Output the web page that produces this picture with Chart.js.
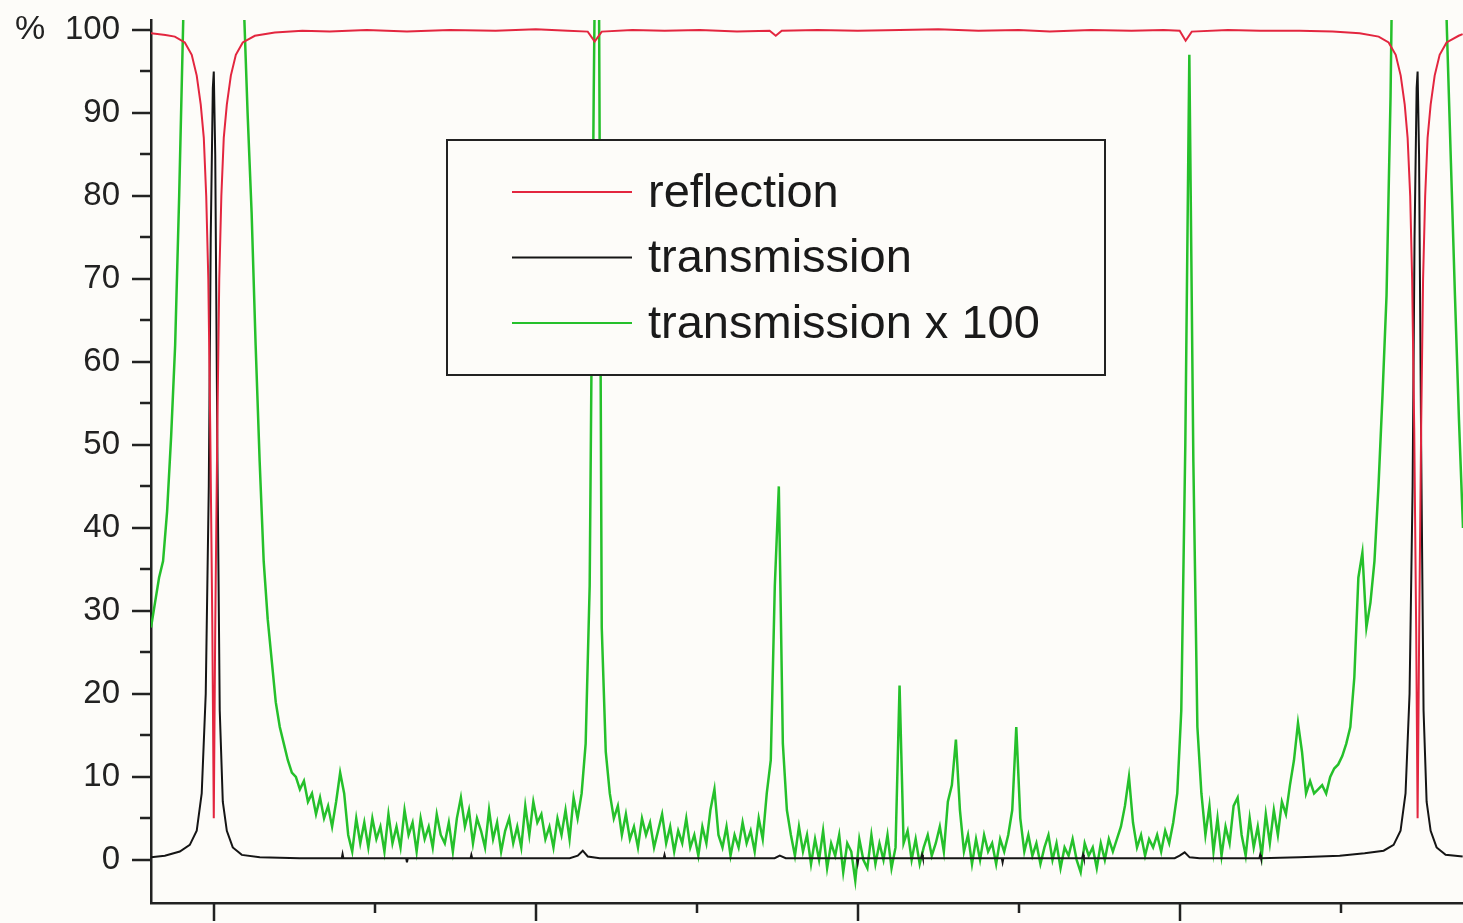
<!DOCTYPE html>
<html lang="en">
<head>
  <meta charset="UTF-8">
  <title>Reflection and transmission</title>
  <script src="https://cdn.jsdelivr.net/npm/chart.js"></script>
  <style>
    body {
      margin: 0;
      background-color: #fdfcf9;
    }
    canvas {
      display: block;
    }
  </style>
</head>
<body>
  <canvas id="myChart" width="1463" height="923"></canvas>

  <script>
    const seriesLabels = ['reflection', 'transmission', 'transmission x 100'];

    // reflection (%)
    const reflectionX = [-0.391, -0.30, -0.242, -0.180, -0.137, -0.106, -0.081, -0.062, -0.047, -0.034, -0.022, -0.009, 0, 0.009, 0.022, 0.034, 0.047, 0.062, 0.081, 0.106,
      0.137, 0.180, 0.255, 0.379, 0.55, 0.72, 0.95, 1.2, 1.466, 1.75, 2.0, 2.2, 2.323, 2.366, 2.410, 2.6, 2.8, 3.019, 3.25, 3.453,
      3.491, 3.528, 3.75, 4.0, 4.261, 4.5, 4.75, 5.0, 5.193, 5.45, 5.7, 5.9, 6.0, 6.037, 6.075, 6.3, 6.5, 6.745, 6.95, 7.118,
      7.236, 7.298, 7.342, 7.373, 7.398, 7.416, 7.432, 7.444, 7.457, 7.469, 7.478, 7.488, 7.500, 7.512, 7.525, 7.540, 7.559, 7.584, 7.615, 7.658,
      7.733, 7.758];
    const reflectionY = [99.6, 99.4, 99.2, 98.5, 97, 94.5, 91, 87, 80, 70, 52, 28, 5, 28, 52, 70, 80, 87, 91, 94.5,
      97, 98.5, 99.3, 99.7, 99.9, 99.8, 100, 99.8, 100, 99.9, 100.1, 99.9, 99.8, 98.6, 99.8, 100, 99.9, 100, 99.8, 99.9,
      99.3, 99.9, 100, 99.9, 100, 100.1, 99.9, 100, 99.8, 100, 99.9, 100, 99.9, 98.7, 99.8, 100, 99.9, 99.9, 99.8, 99.6,
      99.2, 98.5, 97, 94.5, 91, 87, 80, 70, 52, 28, 5, 28, 52, 70, 80, 87, 91, 94.5, 97, 98.5,
      99.3, 99.5];

    // transmission (%)
    const transmissionX = [-0.391, -0.304, -0.211, -0.149, -0.106, -0.075, -0.050, -0.031, -0.019, -0.006, 0, 0.009, 0.022, 0.037, 0.056, 0.081, 0.118, 0.174, 0.286, 0.534,
      0.795, 0.80, 0.805, 1.195, 1.20, 1.205, 1.595, 1.60, 1.605, 2.0,
      2.211, 2.261, 2.292, 2.323, 2.398, 2.795, 2.80, 2.805, 3.2, 3.484,
      3.516, 3.553, 3.995, 4.0, 4.005, 4.395, 4.40, 4.405, 4.895, 4.90,
      4.905, 5.395, 5.40, 5.405, 5.969, 6.0, 6.031, 6.062, 6.124, 6.495,
      6.50, 6.505, 6.745, 6.994, 7.149, 7.267, 7.329, 7.372, 7.403, 7.428,
      7.447, 7.459, 7.472, 7.478, 7.487, 7.500, 7.515, 7.534, 7.559, 7.596,
      7.652, 7.758];
    const transmissionY = [0.3, 0.5, 1.0, 1.8, 3.5, 8, 20, 45, 75, 93, 95, 85, 50, 18, 7, 3.5, 1.5, 0.6, 0.3, 0.2,
      0.2, 0.7, 0.2, 0.2, -0.3, 0.2, 0.2, 0.6, 0.2, 0.2,
      0.2, 0.5, 1.1, 0.4, 0.2, 0.2, 0.6, 0.2, 0.2, 0.2,
      0.5, 0.2, 0.2, -0.4, 0.2, 0.2, 0.6, 0.2, 0.2, -0.3,
      0.2, 0.2, 0.6, 0.2, 0.2, 0.5, 0.9, 0.3, 0.2, 0.2,
      0.6, 0.2, 0.3, 0.5, 0.8, 1.1, 1.8, 3.5, 8, 20,
      45, 75, 93, 95, 85, 50, 18, 7, 3.5, 1.5,
      0.6, 0.4];

    // transmission x 100, one reading every 0.025 starting at -0.39
    const amplifiedStart = -0.39;
    const amplifiedStep = 0.025;
    const amplifiedY = [
      28, 31, 34, 36, 42, 51, 62, 80, 101, 170,
      300, 600, 1500, 4000, 9000, 9500, 4000, 1500, 700, 450,
      380, 250, 150, 104, 90, 78, 62, 48, 36, 29,
      24, 19, 16, 14, 12, 10.5, 10, 8.5, 9.5, 7,
      8, 5.5, 7.5, 5, 6.5, 4, 7, 10.5, 8, 3,
      1, 5, 2, 4.5, 1.5, 5, 2.5, 4, 1, 5.5,
      2, 4, 1.5, 6, 3, 4.5, 1, 5, 2.5, 4,
      1.5, 5.5, 3, 2, 4.5, 1, 5, 7.5, 4, 6,
      2, 5, 3.5, 1.5, 6, 2.5, 4.5, 1, 3.5, 5,
      2, 4, 1.5, 6.5, 3, 7, 4.5, 5.5, 2.5, 4,
      1.5, 5, 3, 6, 2.5, 7.5, 5, 8, 14, 33,
      92, 140, 28, 13, 8, 5, 6.5, 3, 5.5, 2.5,
      4, 1.5, 5, 3, 4.5, 1.5, 3.5, 5.5, 2, 4,
      1, 3.5, 2, 5, 1.5, 3, 0.5, 4, 2, 6,
      8.5, 3, 1.5, 4, 0.5, 3, 1.5, 4.5, 2, 3.5,
      1, 5, 2.5, 8, 12, 33, 45, 14, 6, 3,
      0.5, 4, 1, 3, -0.5, 2.5, 0, 3.5, -1, 2,
      0.5, 3, -1.5, 2, 1, -2.5, 2.5, 0, -1, 3,
      -0.5, 2, 0, 3, -1, 1.5, 21, 2, 3.5, 0,
      2.5, -0.5, 1.5, 3, 0.5, 2, 4, 1, 7, 9,
      14.5, 6, 1, 3, -0.5, 2.5, 0, 3, 1, 2,
      -0.5, 2.5, 1, 3, 6, 16, 5, 1, 3, 0.5,
      2, -0.5, 1.5, 3, 0, 2, -1, 1.5, 0.5, 2.5,
      0, -1.5, 2, 0.5, 1.5, -1, 2, 0, 2.5, 1,
      2.5, 4, 6.5, 10, 4.5, 1.5, 3, 0.5, 2.5, 1.5,
      3, 1, 3.5, 2, 4.5, 8, 18, 50, 97, 48,
      16, 8, 3, 6.5, 1, 5, 0.5, 4, 2, 6.5,
      7.5, 3, 0.5, 5, 1.5, 4, 0.5, 5.5, 2, 6,
      3, 7, 5.5, 9, 12, 16.5, 13, 8, 9.5, 8,
      8.5, 9, 8, 10, 11, 11.5, 12.5, 14, 16, 22,
      34, 37, 28, 31, 36, 45, 56, 68, 92, 130,
      250, 600, 1500, 4500, 9000, 9500, 5000, 1800, 700, 300,
      170, 118, 100, 84, 68, 53, 40
    ];

    const yMajorTicks = [0, 10, 20, 30, 40, 50, 60, 70, 80, 90, 100];
    const yMinorTicks = [5, 15, 25, 35, 45, 55, 65, 75, 85, 95];
    const xMajorTicks = [0, 2, 4, 6];
    const xMinorTicks = [1, 3, 5, 7];

    const FONT = '"Liberation Sans", Arial, sans-serif';
    const INK = '#222';

    // tick marks (long and short) and the % sign
    const axisDecor = {
      id: 'axisDecor',
      afterDraw(chart) {
        const { ctx, chartArea, scales: { x, y } } = chart;
        ctx.save();
        ctx.strokeStyle = INK;
        ctx.lineWidth = 2.5;
        ctx.beginPath();
        yMajorTicks.forEach(v => {
          const py = Math.round(y.getPixelForValue(v));
          ctx.moveTo(chartArea.left - 19, py);
          ctx.lineTo(chartArea.left, py);
        });
        yMinorTicks.forEach(v => {
          const py = Math.round(y.getPixelForValue(v));
          ctx.moveTo(chartArea.left - 11, py);
          ctx.lineTo(chartArea.left, py);
        });
        xMajorTicks.forEach(v => {
          const px = Math.round(x.getPixelForValue(v));
          ctx.moveTo(px, chartArea.bottom);
          ctx.lineTo(px, chartArea.bottom + 18);
        });
        xMinorTicks.forEach(v => {
          const px = Math.round(x.getPixelForValue(v));
          ctx.moveTo(px, chartArea.bottom);
          ctx.lineTo(px, chartArea.bottom + 10);
        });
        ctx.stroke();

        ctx.fillStyle = INK;
        ctx.font = '34px ' + FONT;
        ctx.textBaseline = 'middle';
        ctx.textAlign = 'left';
        ctx.fillText('%', 15, y.getPixelForValue(100));
        ctx.restore();
      }
    };

    // framed legend inside the plot
    const boxLegend = {
      id: 'boxLegend',
      afterDatasetsDraw(chart) {
        const { ctx } = chart;
        const left = 447, top = 140, w = 658, h = 235;
        ctx.save();
        ctx.fillStyle = '#fdfcf9';
        ctx.fillRect(left, top, w, h);
        ctx.strokeStyle = INK;
        ctx.lineWidth = 2;
        ctx.strokeRect(left, top, w, h);
        ctx.font = '47px ' + FONT;
        ctx.textBaseline = 'middle';
        ctx.textAlign = 'left';
        chart.data.datasets.forEach((ds, i) => {
          const cy = top + 52 + i * 65.5;
          ctx.strokeStyle = ds.borderColor;
          ctx.lineWidth = 2;
          ctx.beginPath();
          ctx.moveTo(left + 65, cy);
          ctx.lineTo(left + 185, cy);
          ctx.stroke();
          ctx.fillStyle = '#1a1a1a';
          ctx.fillText(ds.label, left + 201, cy + 2);
        });
        ctx.restore();
      }
    };

    const reflectionPoints = reflectionX.map((x, i) => ({ x, y: reflectionY[i] }));
    const transmissionPoints = transmissionX.map((x, i) => ({ x, y: transmissionY[i] }));
    const amplifiedPoints = amplifiedY.map((y, i) => ({ x: amplifiedStart + i * amplifiedStep, y }));

    new Chart(document.getElementById('myChart'), {
      type: 'line',
      data: {
        datasets: [
          { label: seriesLabels[0], data: reflectionPoints, borderColor: '#e3263f', borderWidth: 2 },
          { label: seriesLabels[1], data: transmissionPoints, borderColor: '#151515', borderWidth: 2 },
          { label: seriesLabels[2], data: amplifiedPoints, borderColor: '#25c02b', borderWidth: 2.5 }
        ]
      },
      options: {
        responsive: false,
        animation: false,
        devicePixelRatio: 1,
        layout: { padding: { top: 20, left: 0, right: 0, bottom: 0 } },
        elements: { point: { radius: 0 }, line: { tension: 0 } },
        plugins: { legend: { display: false }, tooltip: { enabled: false } },
        scales: {
          x: {
            type: 'linear',
            min: -0.39,
            max: 7.76,
            ticks: { display: false },
            grid: { display: false },
            border: { color: INK, width: 2.5 },
            afterFit: s => { s.height = 20; s.paddingLeft = 0; s.paddingRight = 0; }
          },
          y: {
            min: -5.2,
            max: 101.2,
            ticks: { stepSize: 10, includeBounds: false, padding: 23, color: INK, font: { size: 33, family: FONT } },
            grid: { display: false },
            border: { color: INK, width: 2.5 },
            afterFit: s => { s.width = 151; s.paddingTop = 0; s.paddingBottom = 0; }
          }
        }
      },
      plugins: [axisDecor, boxLegend]
    });
  </script>
</body>
</html>
